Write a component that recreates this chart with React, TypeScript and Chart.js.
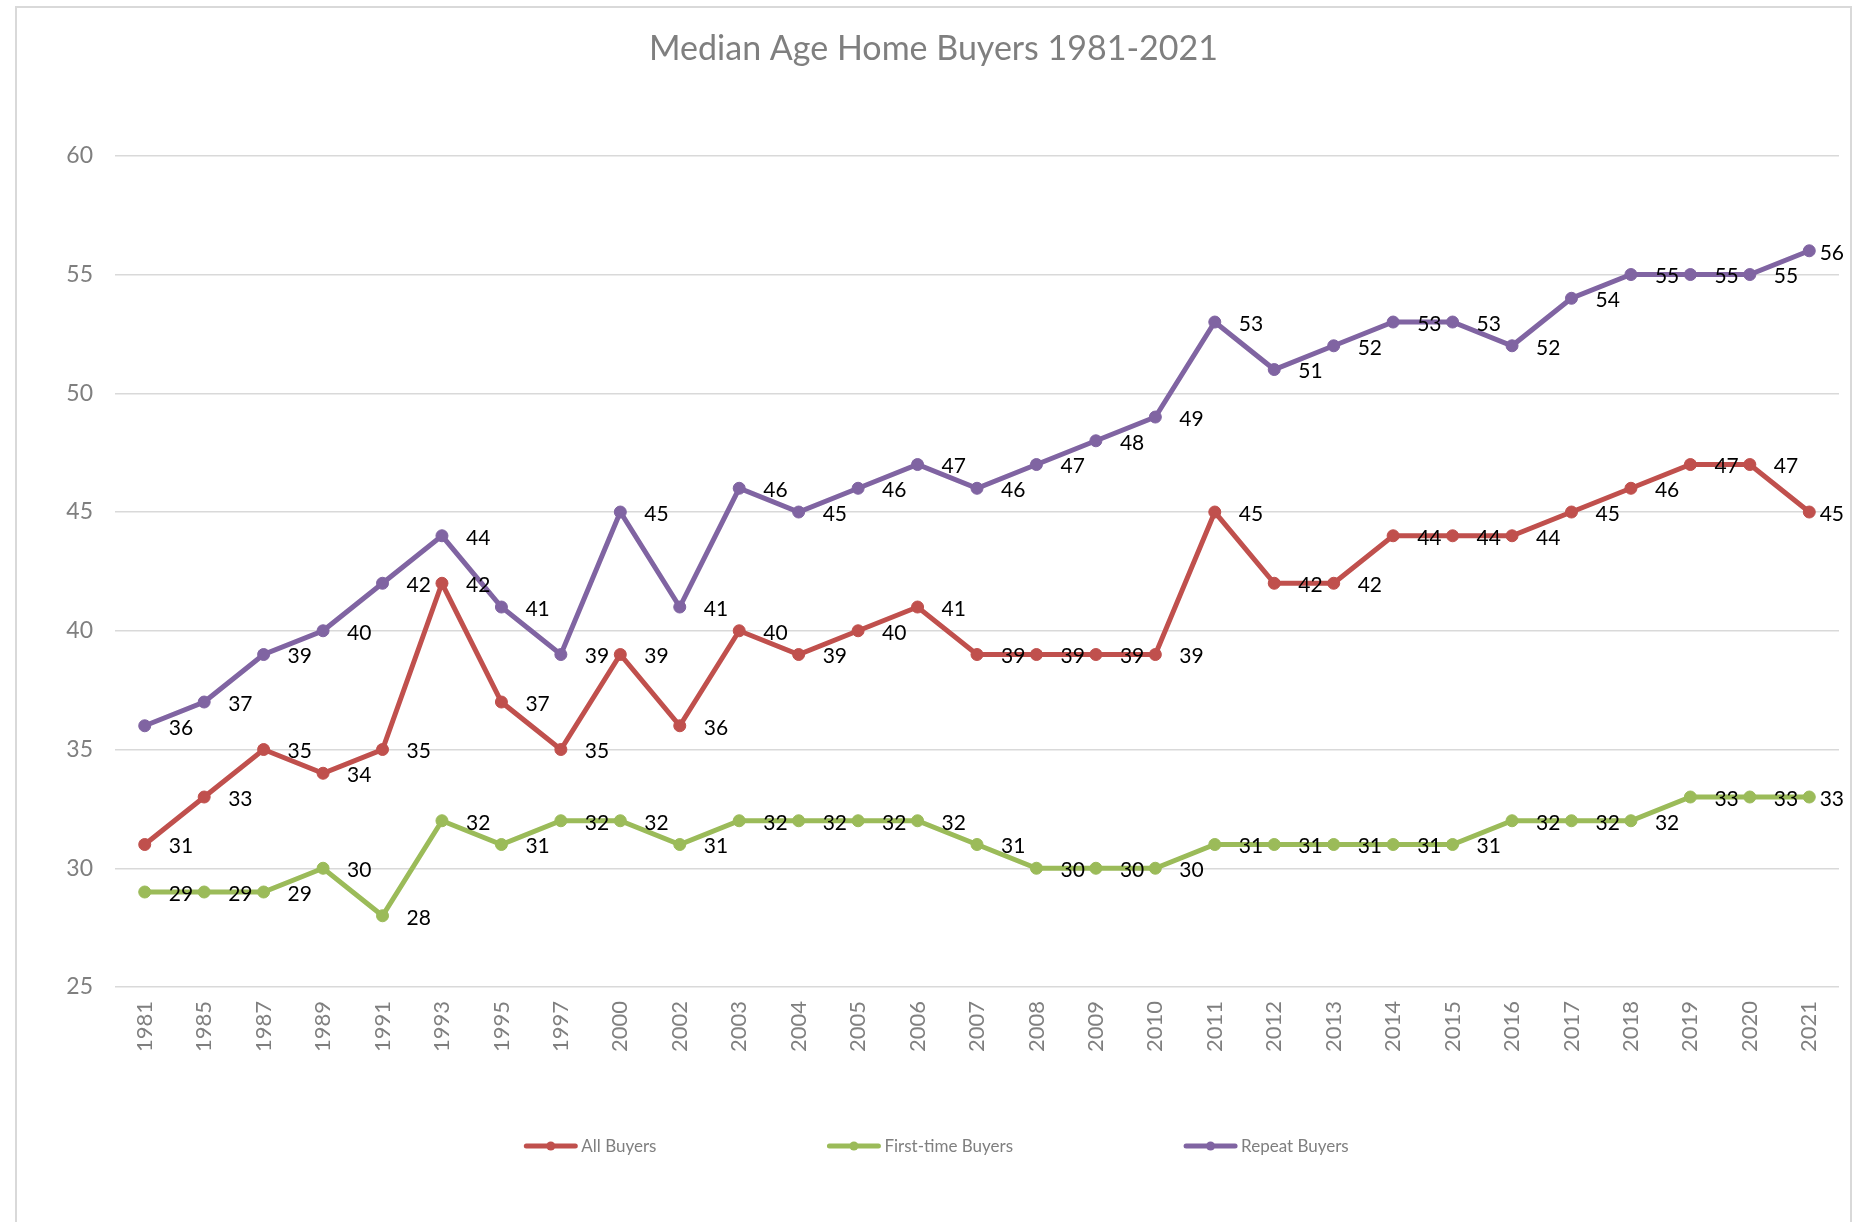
import React, { useEffect, useRef } from "react";
import { Chart, registerables } from "chart.js";

Chart.register(...registerables);

const years = [
  "1981", "1985", "1987", "1989", "1991", "1993", "1995", "1997", "2000", "2002",
  "2003", "2004", "2005", "2006", "2007", "2008", "2009", "2010", "2011", "2012",
  "2013", "2014", "2015", "2016", "2017", "2018", "2019", "2020", "2021",
];

const allBuyers = [31, 33, 35, 34, 35, 42, 37, 35, 39, 36, 40, 39, 40, 41, 39, 39, 39, 39, 45, 42, 42, 44, 44, 44, 45, 46, 47, 47, 45];
const firstTimeBuyers = [29, 29, 29, 30, 28, 32, 31, 32, 32, 31, 32, 32, 32, 32, 31, 30, 30, 30, 31, 31, 31, 31, 31, 32, 32, 32, 33, 33, 33];
const repeatBuyers = [36, 37, 39, 40, 42, 44, 41, 39, 45, 41, 46, 45, 46, 47, 46, 47, 48, 49, 53, 51, 52, 53, 53, 52, 54, 55, 55, 55, 56];

const seriesNames = ["All Buyers", "First-time Buyers", "Repeat Buyers"];
const seriesColors = ["#C0504D", "#9BBB59", "#8064A2"];

const yMin = 25;
const yMax = 60;
const yStep = 5;

const titleText = "Median Age Home Buyers 1981-2021";

const FONT = "Lato, 'Open Sans', 'Liberation Sans', sans-serif";
const W = 1863;
const H = 1222;

const framePlugin = {
  id: "frame",
  beforeDraw(chart: any) {
    const ctx = chart.ctx;
    ctx.save();
    ctx.fillStyle = "#ffffff";
    ctx.fillRect(0, 0, chart.width, chart.height);
    ctx.strokeStyle = "#d9d9d9";
    ctx.lineWidth = 2;
    ctx.strokeRect(16, 7, 1835, chart.height + 20);
    ctx.restore();
  },
};

const valueLabelPlugin = {
  id: "valueLabels",
  afterDatasetsDraw(chart: any) {
    const ctx = chart.ctx;
    ctx.save();
    ctx.font = `21px ${FONT}`;
    ctx.fillStyle = "#000000";
    ctx.textBaseline = "middle";
    ctx.textAlign = "left";
    const maxRight = chart.chartArea.right + 5;
    chart.data.datasets.forEach((ds: any, i: number) => {
      const meta = chart.getDatasetMeta(i);
      meta.data.forEach((pt: any, j: number) => {
        const txt = String(ds.data[j]);
        const w = ctx.measureText(txt).width;
        let x = pt.x + 24;
        if (x + w > maxRight) x = maxRight - w;
        ctx.fillText(txt, x, pt.y + 2);
      });
    });
    ctx.restore();
  },
};

const legendPlugin = {
  id: "excelLegend",
  afterDraw(chart: any) {
    const ctx = chart.ctx;
    ctx.save();
    ctx.font = `17px ${FONT}`;
    ctx.textBaseline = "middle";
    ctx.textAlign = "left";
    const lineLen = 53;
    const textGap = 4;
    const itemGap = 171;
    const widths = chart.data.datasets.map((ds: any) => lineLen + textGap + ctx.measureText(ds.label).width);
    const total = widths.reduce((a: number, b: number) => a + b, 0) + itemGap * (widths.length - 1);
    let x = chart.width / 2 + 5 - total / 2;
    const y = 1146;
    chart.data.datasets.forEach((ds: any, i: number) => {
      ctx.strokeStyle = ds.borderColor;
      ctx.lineWidth = 5;
      ctx.lineCap = "round";
      ctx.beginPath();
      ctx.moveTo(x + 2, y);
      ctx.lineTo(x + lineLen - 2, y);
      ctx.stroke();
      ctx.fillStyle = ds.borderColor;
      ctx.beginPath();
      ctx.arc(x + lineLen / 2, y, 4.5, 0, Math.PI * 2);
      ctx.fill();
      ctx.fillStyle = "#7f7f7f";
      ctx.fillText(ds.label, x + lineLen + textGap, y + 1);
      x += widths[i] + itemGap;
    });
    ctx.restore();
  },
};

export default function App() {
  const canvasRef = useRef<HTMLCanvasElement | null>(null);

  useEffect(() => {
    let chart: Chart | null = null;
    let cancelled = false;
    const make = () => {
      if (cancelled || !canvasRef.current) return;
      const seriesData = [allBuyers, firstTimeBuyers, repeatBuyers];
      chart = new Chart(canvasRef.current, {
        type: "line",
        data: {
          labels: years,
          datasets: seriesData.map((d, i) => ({
            label: seriesNames[i],
            data: d,
            borderColor: seriesColors[i],
            backgroundColor: seriesColors[i],
            pointBackgroundColor: seriesColors[i],
            pointBorderColor: seriesColors[i],
            pointBorderWidth: 1,
            pointRadius: 6,
            borderWidth: 5,
            tension: 0,
            fill: false,
            yAxisID: "y",
          })),
        },
        options: {
          responsive: false,
          animation: false,
          devicePixelRatio: 1,
          layout: { padding: { left: 14, right: 10, top: 0, bottom: 0 } },
          plugins: {
            legend: { display: false },
            tooltip: { enabled: false },
            title: {
              display: true,
              text: titleText,
              color: "#7f7f7f",
              font: { family: FONT, size: 34, weight: "normal" },
              padding: { top: 29, bottom: 86 },
            },
          },
          scales: {
            x: {
              type: "category",
              offset: true,
              grid: { display: false, drawTicks: false },
              border: { display: false },
              ticks: {
                color: "#7f7f7f",
                font: { family: FONT, size: 22 },
                minRotation: 90,
                maxRotation: 90,
                autoSkip: false,
                padding: 14,
              },
              afterFit: (scale: any) => {
                scale.height = H - 987;
              },
            },
            y: {
              position: "left",
              min: yMin,
              max: yMax,
              grid: { color: "#d9d9d9", lineWidth: 1.5, drawTicks: false },
              border: { display: false },
              ticks: {
                stepSize: yStep,
                color: "#7f7f7f",
                font: { family: FONT, size: 23 },
                padding: 22,
              },
              afterFit: (scale: any) => {
                scale.width = 101;
              },
            },
            yRight: {
              position: "right",
              display: true,
              min: yMin,
              max: yMax,
              grid: { display: false, drawTicks: false },
              border: { display: false },
              ticks: { display: false },
              afterFit: (scale: any) => {
                scale.width = 14;
              },
            },
          },
        },
        plugins: [framePlugin, valueLabelPlugin, legendPlugin],
      });
    };
    const fontsReady = (document as any).fonts
      ? Promise.all([
          (document as any).fonts.load(`21px Lato`),
          (document as any).fonts.load(`34px Lato`),
        ]).catch(() => null)
      : Promise.resolve(null);
    fontsReady.then(make);
    return () => {
      cancelled = true;
      if (chart) chart.destroy();
    };
  }, []);

  return (
    <div style={{ position: "fixed", left: 0, top: 0, width: W, height: H, background: "#fff" }}>
      <canvas ref={canvasRef} width={W} height={H} style={{ width: W, height: H, display: "block" }} />
    </div>
  );
}
